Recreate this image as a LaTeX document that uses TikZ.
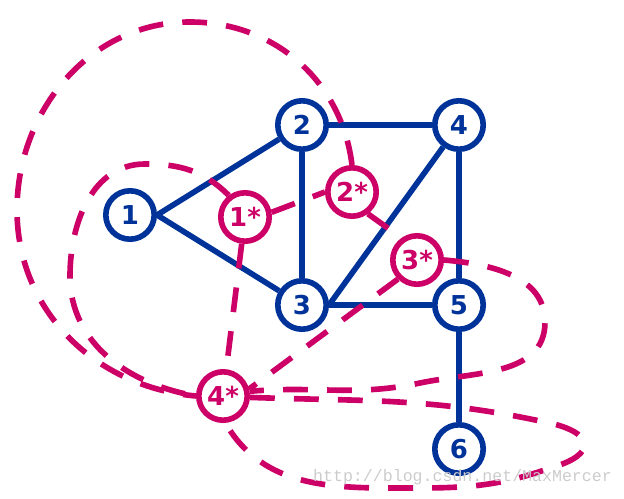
\documentclass[tikz,border=0pt]{standalone}
\usepackage{fontspec}
\setmainfont{DejaVu Sans}
\newfontfamily\marcaagua{Liberation Mono}
\usepackage{tikz}
\usetikzlibrary{positioning, calc}
\definecolor{azulgrafo}{RGB}{0,51,153}
\definecolor{magentadual}{RGB}{204,0,102}

\begin{document}
\begin{tikzpicture}[
        vertice/.style={circle, draw=azulgrafo, line width=4pt, fill=white, minimum size=1.21cm, inner sep=0pt, text=azulgrafo, font=\fontsize{18.5}{19}\selectfont\bfseries},
        dual/.style={vertice, draw=magentadual, text=magentadual},
        arista/.style={azulgrafo, line width=4pt},
        aristadual/.style={magentadual, line width=4pt, dash pattern=on 0.62cm off 0.48cm} % trazo discontinuo del grafo dual
    ]
        \useasboundingbox (0,0) rectangle (15.6,-12.45);

        % --- Vertices del grafo original ---
        \node[vertice] (v1) at (3.25, -5.375) {1};
        \node[vertice] (v2) at (7.55, -3.125) {2};
        \node[vertice] (v3) at (7.55, -7.625) {3};
        \node[vertice] (v4) at (11.475, -3.125) {4};
        \node[vertice] (v5) at (11.475, -7.625) {5};
        \node[vertice] (v6) at (11.475, -11.225) {6};

        % --- Vertices del grafo dual (uno por cara) ---
        \node[dual] (d1) at (6.125, -5.425) {1*};
        \node[dual] (d2) at (8.8, -4.8) {2*};
        \node[dual] (d3) at (10.425, -6.5) {3*};
        \node[dual] (d4) at (5.575, -9.9) {4*}; % cara exterior

        % ================= ARISTAS DEL GRAFO ORIGINAL =================
        \draw[arista] (v1.east) -- (v2);
        \draw[arista] (v1.east) -- (v3);
        \draw[arista] (v2) -- (v3);
        \draw[arista] (v2) -- (v4);
        \draw[arista] (v3.east) -- (v4);
        \draw[arista] (v3) -- (v5);
        \draw[arista] (v4) -- (v5);
        \draw[arista] (v5) -- (v6);

        % ================= ARISTAS DEL GRAFO DUAL =================

        % Aristas cortas entre caras interiores
        \draw[aristadual] (d1.10) -- (d2.west);
        \draw[aristadual] (d2.-54) -- (d3.125);
        \draw[aristadual] (d1) -- (d4);
        \draw[aristadual] (d3.225) -- (d4.15);

        % --- Arco grande: de 2* por arriba y por la izquierda hasta 4* ---
        \draw[aristadual] (d2.north) to[out=97, in=0] (4.75, -0.55)
            to[out=180, in=90] (0.425, -5.25)
            to[out=-90, in=175] (d4.west);

        % --- Lazo alrededor del vertice 1 ---
        \draw[aristadual] (d1.127) to[out=135, in=0] (3.625, -4.1)
            to[out=180, in=90] (1.75, -6.9)
            to[out=-90, in=170] (d4.west);

        % --- Lazo alrededor del vertice 5 ---
        \draw[aristadual] (d3.east) to[out=-5, in=90] (13.625, -8.05)
            to[out=-90, in=12] (10.5, -9.575)
            to[out=192, in=5] (d4.10);

        % --- Lazo de 4* sobre si mismo, alrededor del vertice 6 ---
        \draw[aristadual] (d4.-3) to[out=-2, in=168] (13.5, -10.525)
            .. controls (14.925, -10.775) and (14.95, -11.375) .. (13.75, -11.7)
            to[out=200, in=0] (9.75, -12.2)
            to[out=180, in=-60] (d4.-85);

        % Marca de agua
        \node[text=gray!40, font=\marcaagua\fontsize{11.8}{12}\selectfont] (marca) at (11.5625, -11.925) {http://blog.csdn.net/MaxMercer};

    \end{tikzpicture}
\end{document}
